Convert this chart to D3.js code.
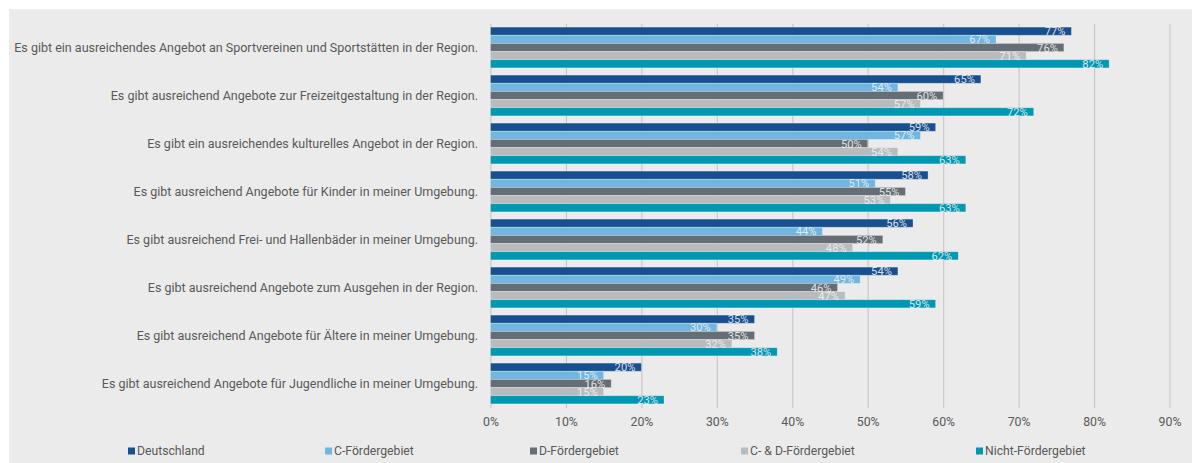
<!DOCTYPE html>
<html>
<head>
<meta charset="utf-8">
<script src="https://cdn.jsdelivr.net/npm/d3@7"></script>
<style>
  html, body { margin: 0; padding: 0; background: #ffffff; }
  svg { display: block; font-family: Roboto, "Liberation Sans", Arial, sans-serif; }
</style>
</head>
<body>
<svg id="chart" width="1192" height="463"></svg>
<script>
const categories = [
  "Es gibt ein ausreichendes Angebot an Sportvereinen und Sportstätten in der Region.",
  "Es gibt ausreichend Angebote zur Freizeitgestaltung in der Region.",
  "Es gibt ein ausreichendes kulturelles Angebot in der Region.",
  "Es gibt ausreichend Angebote für Kinder in meiner Umgebung.",
  "Es gibt ausreichend Frei- und Hallenbäder in meiner Umgebung.",
  "Es gibt ausreichend Angebote zum Ausgehen in der Region.",
  "Es gibt ausreichend Angebote für Ältere in meiner Umgebung.",
  "Es gibt ausreichend Angebote für Jugendliche in meiner Umgebung."
];
const seriesNames = ["Deutschland", "C-Fördergebiet", "D-Fördergebiet", "C- & D-Fördergebiet", "Nicht-Fördergebiet"];
const deutschland = [77, 65, 59, 58, 56, 54, 35, 20];
const cFoerder    = [67, 54, 57, 51, 44, 49, 30, 15];
const dFoerder    = [76, 60, 50, 55, 52, 46, 35, 16];
const cdFoerder   = [71, 57, 54, 53, 48, 47, 32, 15];
const nichtFoerder= [82, 72, 63, 63, 62, 59, 38, 23];
const tickValues = [0, 10, 20, 30, 40, 50, 60, 70, 80, 90];
const seriesColors = ["#17508f", "#6fb6e1", "#676d75", "#b9bcbf", "#0097b3"];

const seriesValues = [deutschland, cFoerder, dFoerder, cdFoerder, nichtFoerder];

const svg = d3.select("#chart");
const textColor = "#595959";

// background panel
svg.append("rect").attr("x", 9).attr("y", 9).attr("width", 1183).attr("height", 454).attr("fill", "#ebebeb");

const x = d3.scaleLinear().domain([0, 90]).range([490.5, 1169.5]);
const y0 = d3.scaleBand().domain(categories).range([23.5, 407.5]).paddingInner(0.15).paddingOuter(0.075);
const y1 = d3.scaleBand().domain(seriesNames).range([0, y0.bandwidth()]).padding(0);

// gridlines
const axisG = svg.append("g").attr("transform", "translate(0,408)")
  .call(d3.axisBottom(x).tickValues(tickValues).tickFormat(d => d + "%").tickSize(-384).tickSizeOuter(0));
axisG.select(".domain").remove();
axisG.selectAll(".tick line").attr("stroke", "#c9c9c9").attr("stroke-width", 1.2);
axisG.selectAll(".tick text").attr("fill", textColor).attr("font-size", 12.3).attr("dy", "1.2em")
  .attr("font-family", "Roboto, 'Liberation Sans', Arial, sans-serif");

// category labels
svg.append("g").selectAll("text").data(categories).join("text")
  .attr("x", 478)
  .attr("y", d => y0(d) + y0.bandwidth() / 2)
  .attr("dy", "0.35em")
  .attr("text-anchor", "end")
  .attr("fill", textColor)
  .attr("font-size", 12.5)
  .text(d => d);

// bars
const rows = [];
categories.forEach((c, ci) => {
  seriesNames.forEach((s, si) => {
    rows.push({ cat: c, series: s, si: si, value: seriesValues[si][ci] });
  });
});

const barG = svg.append("g");
barG.selectAll("rect").data(rows).join("rect")
  .attr("x", x(0))
  .attr("y", d => y0(d.cat) + y1(d.series))
  .attr("width", d => x(d.value) - x(0))
  .attr("height", y1.bandwidth())
  .attr("fill", d => seriesColors[d.si])
  .attr("stroke", "rgba(255,255,255,0.35)")
  .attr("stroke-width", 0.8);

barG.selectAll("text").data(rows).join("text")
  .attr("x", d => x(d.value) - 6)
  .attr("y", d => y0(d.cat) + y1(d.series) + y1.bandwidth() / 2)
  .attr("dy", "0.36em")
  .attr("text-anchor", "end")
  .attr("fill", "#f2f2f2")
  .attr("fill-opacity", 0.9)
  .attr("font-size", 11.2)
  .text(d => d.value + "%");

// legend
const legendX = [128, 325, 530, 741, 976];
const lg = svg.append("g").selectAll("g").data(seriesNames).join("g")
  .attr("transform", (d, i) => `translate(${legendX[i]},451)`);
lg.append("rect").attr("x", 0).attr("y", -3.5).attr("width", 7).attr("height", 7)
  .attr("fill", (d, i) => seriesColors[i]);
lg.append("text").attr("x", 9).attr("y", 0).attr("dy", "0.35em")
  .attr("fill", textColor).attr("font-size", 12.2).text(d => d);
</script>
</body>
</html>
